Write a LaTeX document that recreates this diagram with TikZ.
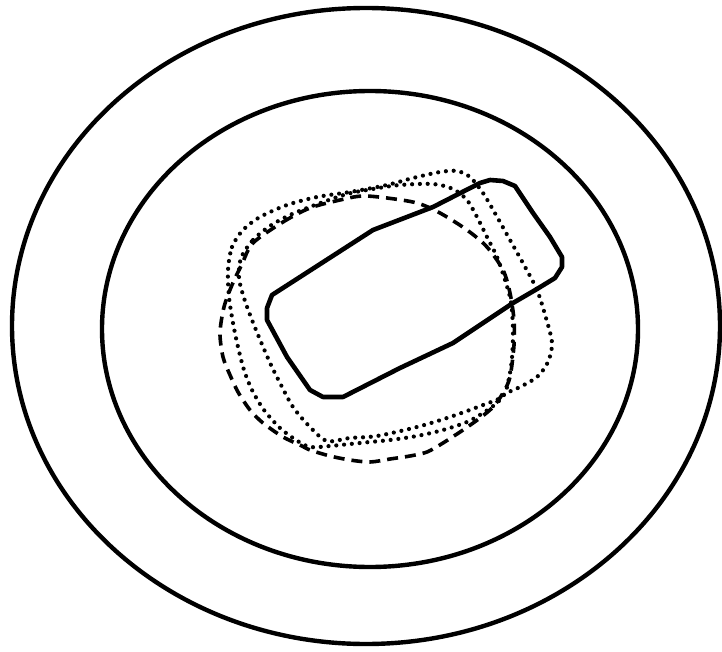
\documentclass[tikz,border=0pt]{standalone}
\begin{document}
\begin{tikzpicture}[x=1pt,y=-1pt,
  ring/.style={line width=4.4pt},
  solidline/.style={line width=4.6pt,line join=round},
  dashline/.style={line width=3.6pt,dash pattern=on 11pt off 7pt},
  dotline/.style={line width=4.2pt,line cap=round,dash pattern=on 0pt off 7.8pt}]
\useasboundingbox (0,0) rectangle (722,652);
% outer and inner rings
\draw[ring] (366,326) ellipse [x radius=354, y radius=318];
\draw[ring] (370,329) ellipse [x radius=268, y radius=238];
% solid rounded box
\draw[solidline] (272,295) -- (300,277) -- (373,230) -- (433,207) -- (480,183)
  -- (490,180) -- (503,181) -- (515,186) -- (533,213) -- (550,237) -- (562,257)
  -- (562,267) -- (555,278) -- (537,289) -- (513,303) -- (453,343) -- (400,368)
  -- (343,397) -- (323,397) -- (310,390) -- (287,357) -- (267,320) -- (267,308) -- cycle;
% dashed contour
\draw[dashline] plot[smooth cycle,tension=0.5] coordinates {
  (253,243) (283,222) (310,208) (340,200) (362,196) (387,198) (417,203)
  (440,213) (467,230) (487,247) (503,270) (510,293) (514,320) (514,345)
  (510,377) (503,393) (493,407) (480,418) (463,430) (443,443) (427,452)
  (410,456) (390,459) (370,462) (350,460) (330,456) (310,450) (300,445)
  (283,437) (263,423) (250,410) (238,392) (230,375)
  (223,357) (220,333) (224,307) (232,285) (242,264)};
% outer dotted contour
\draw[dotline] plot[smooth cycle,tension=0.5] coordinates {
  (228,270) (232,247) (243,230) (260,217) (287,205) (317,197) (350,192)
  (387,185) (413,178) (440,172) (457,171) (470,177) (483,193) (496,215)
  (510,240) (524,265) (537,290) (546,318) (552,343) (548,362) (537,377)
  (520,387) (505,394) (497,403) (483,413) (467,422) (443,430) (417,436)
  (390,440) (370,442) (350,444) (330,446) (310,447) (296,440) (280,428)
  (264,410) (252,390) (244,370) (238,347) (233,323) (229,297)};
% inner dotted contour
\draw[dotline] plot[smooth cycle,tension=0.5] coordinates {
  (241,258) (253,240) (270,226) (290,215) (315,205) (347,194) (373,189)
  (400,185) (433,184) (453,189) (467,200) (477,217) (487,237) (497,257)
  (505,280) (511,302) (513,330) (512,358) (509,378) (503,396) (483,405)
  (450,417) (417,427) (377,436) (350,438) (327,441) (310,427) (293,407)
  (280,383) (271,365) (261,342) (252,320) (244,298) (239,278)};
\end{tikzpicture}
\end{document}
